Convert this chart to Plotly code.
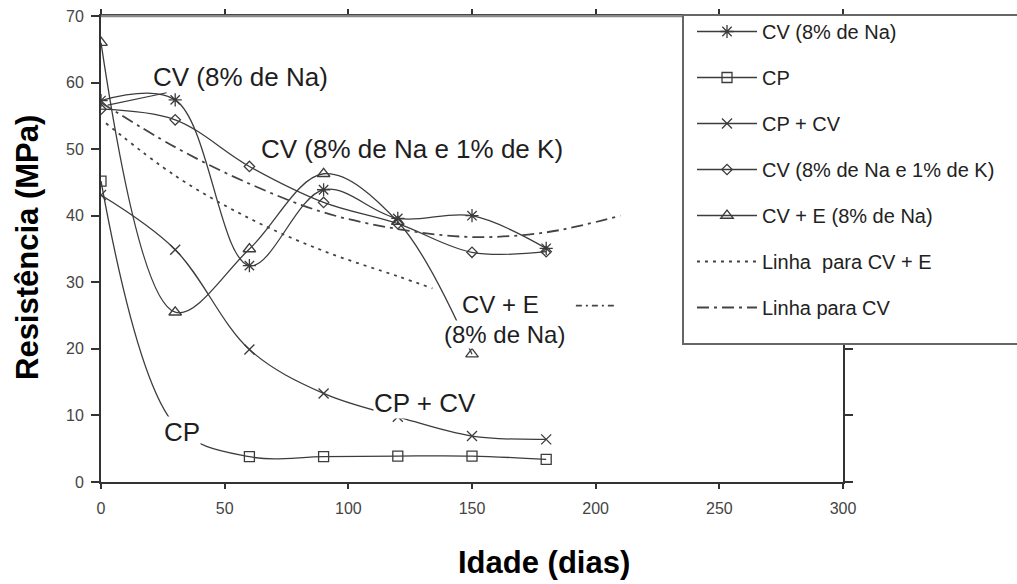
import plotly.graph_objects as go

# ---------------- data ----------------
days = [0, 30, 60, 90, 120, 150, 180]
cv_na = [57.3, 57.4, 32.5, 43.9, 39.6, 40.0, 35.1]            # CV (8% de Na)
cp = [45.2, 8.5, 3.8, 3.8, 3.9, 3.9, 3.4]                      # CP
cp_cv = [43.1, 34.9, 19.9, 13.3, 9.8, 6.9, 6.4]                # CP + CV
cv_na_k = [56.0, 54.4, 47.4, 42.0, 38.8, 34.5, 34.6]          # CV (8% de Na e 1% de K)
cve_days = [0, 30, 60, 90, 120, 150]
cv_e = [66.0, 25.5, 35.0, 46.3, 39.1, 19.2]                    # CV + E (8% de Na)
line_cve_days = [2, 30, 60, 90, 120, 134]
line_cve = [53.9, 46.0, 39.6, 34.7, 30.9, 29.1]                # Linha para CV + E
line_cv_days = [0, 30, 60, 90, 120, 150, 180, 210]
line_cv = [57.0, 50.3, 44.8, 40.5, 38.0, 36.8, 37.5, 40.0]     # Linha para CV

x_ticks = [0, 50, 100, 150, 200, 250, 300]
y_ticks = [0, 10, 20, 30, 40, 50, 60, 70]

FONT = "Liberation Sans, Arial, sans-serif"
LC = "#3c3c3c"

fig = go.Figure()

def series(x, y, name, symbol, size):
    fig.add_trace(go.Scatter(
        x=x, y=y, name=name, legendgroup=name, mode="lines+markers",
        line=dict(color=LC, width=1.3, shape="spline", smoothing=1),
        marker=dict(symbol=symbol, size=size, color=LC,
                    line=dict(color=LC, width=1.3)),
    ))

series(days, cv_na, "CV (8% de Na)", "asterisk-open", 11)
series(days, cp, "CP", "square-open", 10)
series(days, cp_cv, "CP + CV", "x-thin-open", 10)
series(days, cv_na_k, "CV (8% de Na e 1% de K)", "diamond-open", 8)
series(cve_days, cv_e, "CV + E (8% de Na)", "triangle-up-open", 11)

fig.add_trace(go.Scatter(
    x=line_cve_days, y=line_cve, name="Linha  para CV + E", legendgroup="lcve",
    mode="lines", line=dict(color="#444", width=1.8, dash="3px,5px",
                            shape="spline", smoothing=1)))
fig.add_trace(go.Scatter(
    x=line_cv_days, y=line_cv, name="Linha para CV", legendgroup="lcv",
    mode="lines", line=dict(color="#444", width=1.8, dash="12px,5px,3px,5px",
                            shape="spline", smoothing=1)))

# ---------------- in-plot labels ----------------
lab = dict(font=dict(family=FONT, size=26, color="#1e1e1e"),
           bgcolor="white", borderpad=0, xref="x", yref="y")
lab_small = dict(lab, font=dict(family=FONT, size=24, color="#1e1e1e"))
fig.add_annotation(text="CV (8% de Na)", x=2.7, y=56.6, ax=56.2, ay=60.8,
                   axref="x", ayref="y", showarrow=True, arrowhead=0,
                   arrowwidth=1.2, arrowcolor=LC, standoff=0, **lab)
fig.add_annotation(text="CV (8% de Na e 1% de K)", x=125.8, y=50.0, showarrow=False, **lab)
fig.add_annotation(text="CV + E", x=161.6, y=26.7, showarrow=False, **lab_small)
fig.add_annotation(text="(8% de Na)", x=163.0, y=22.2, showarrow=False, **lab_small)
fig.add_annotation(text="CP + CV", x=130.9, y=11.9, showarrow=False, **lab)
fig.add_annotation(text="CP", x=32.6, y=7.5, showarrow=False, **lab)
fig.add_shape(type="line", xref="x", yref="y", x0=192, x1=209, y0=26.5, y1=26.5,
              line=dict(color="#444", width=1.8, dash="6px,4px,2px,4px"))

# lighter top frame line, as in the reference
fig.add_shape(type="line", xref="paper", yref="paper", x0=0, x1=(683 - 101) / 742,
              y0=1, y1=1, line=dict(color="#888", width=2.5), layer="above")

# legend frame (extends past the right edge, as in the reference)
fig.add_shape(type="rect", xref="paper", yref="paper",
              x0=(683 - 101) / 742, x1=(1040 - 101) / 742,
              y0=(482 - 344) / 466, y1=(482 - 15) / 466,
              fillcolor="white", line=dict(color="#666", width=2), layer="above")

# ---------------- axis titles ----------------
fig.add_annotation(text="Idade (dias)", xref="paper", yref="paper",
                   x=(544 - 101) / 742, y=(482 - 562) / 466, showarrow=False,
                   xanchor="center", yanchor="middle",
                   font=dict(family=FONT, size=31, color="black", weight="bold"))
fig.add_annotation(text="Resistência (MPa)", xref="paper", yref="paper",
                   x=(28 - 101) / 742, y=(482 - 248) / 466, showarrow=False,
                   xanchor="center", yanchor="middle", textangle=-90,
                   font=dict(family=FONT, size=31, color="black", weight="bold"))

axis_common = dict(showgrid=False, zeroline=False, showline=True, mirror="ticks",
                   linecolor="#333", linewidth=2, ticks="outside", tickcolor="#333",
                   tickwidth=1.5, tickfont=dict(family=FONT, size=16, color="#444"))

fig.update_xaxes(range=[0, 300], tickvals=x_ticks, ticklen=5,
                 ticklabelstandoff=6, **axis_common)
fig.update_yaxes(range=[0, 70], tickvals=y_ticks, ticklen=8,
                 ticklabelstandoff=4, **axis_common)

fig.update_layout(
    width=1017, height=584, autosize=False,
    margin=dict(l=101, r=174, t=16, b=102, autoexpand=False),
    plot_bgcolor="white", paper_bgcolor="white",
    font=dict(family=FONT),
    legend=dict(xref="container", yref="container", x=692/1017, y=1-12/584,
                xanchor="left", yanchor="top", bgcolor="rgba(0,0,0,0)",
                borderwidth=0, maxheight=560,
                font=dict(family=FONT, size=20, color="#222"),
                tracegroupgap=17, itemwidth=60),
    showlegend=True,
)

fig.write_html("out.html")
